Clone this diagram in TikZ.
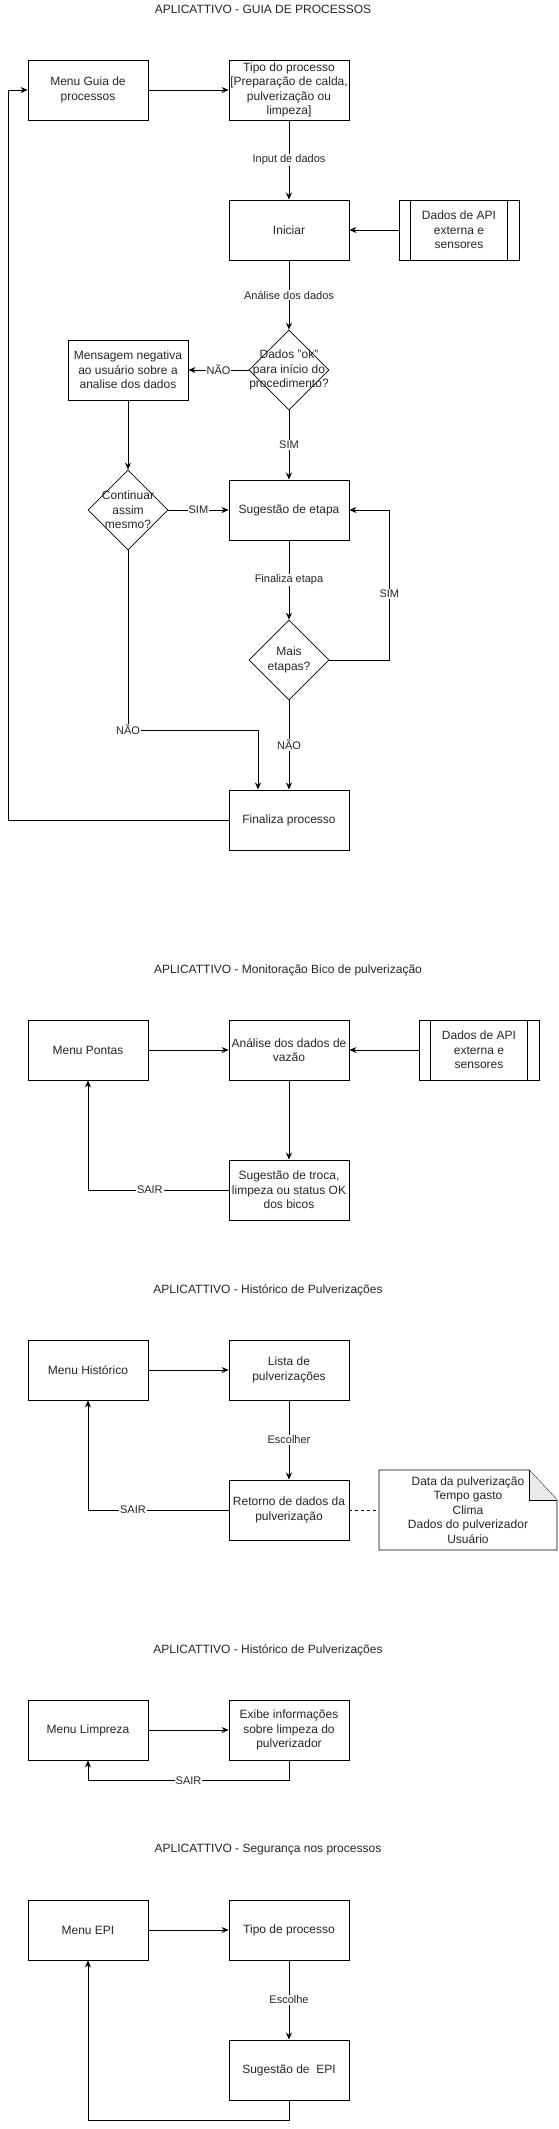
\documentclass[tikz,border=0pt]{standalone}
\usepackage{fontspec}
\setmainfont{Liberation Sans}
\usetikzlibrary{shapes.geometric,arrows.meta,positioning,calc}

\begin{document}
\begin{tikzpicture}[x=1pt,y=-1pt,
    every node/.style={text=black!85,font=\fontsize{12}{14.5}\selectfont},
    box/.style={draw,line width=0.9pt,minimum width=120pt,minimum height=60pt,inner sep=1pt,align=center},
    decision/.style={draw,diamond,line width=0.6pt,minimum width=80pt,minimum height=80pt,inner sep=0pt},
    flow/.style={line width=0.9pt,-{Stealth[length=7pt,width=6pt]}},
    lbl/.style={fill=white,inner sep=1pt,font=\fontsize{11}{13}\selectfont}]
      \useasboundingbox (0,0) rectangle (558,2129);
      \fill[white] (0,0) rectangle (558,2129);

      % guia de processos
      \node (t1) at (263,9.5) {APLICATTIVO - GUIA DE PROCESSOS};
      \node[box] (menu) at (88,90) {Menu Guia de\\processos};
      \node[box] (tipo) at (289,90) {Tipo do processo\\{[}Preparação de calda,\\pulverização ou\\limpeza{]}};
      \node[box] (ini) at (289,230) {Iniciar};
      \node[box] (api) at (459,230) {Dados de API\\externa e\\sensores};
      \draw[line width=0.9pt] ([xshift=12pt]api.north west) -- ([xshift=12pt]api.south west);
      \draw[line width=0.9pt] ([xshift=-12pt]api.north east) -- ([xshift=-12pt]api.south east);
      \node[decision,label={[align=center]center:Dados "ok"\\para início do\\procedimento?}] (ok) at (289,370) {};
      \node[box] (msg) at (128,370) {Mensagem negativa\\ao usuário sobre a\\analise dos dados};
      \node[decision,label={[align=center]center:Continuar\\assim\\mesmo?}] (cont) at (128,510) {};
      \node[box] (etapa) at (289,510) {Sugestão de etapa};
      \node[decision,label={[align=center]center:Mais\\etapas?}] (mais) at (289,660) {};
      \node[box] (fim) at (289,820) {Finaliza processo};
      \coordinate (naoturn) at (258,730);

      \draw[flow] (menu) -- (tipo);
      \draw[flow] (tipo) -- node[lbl]{Input de dados} (ini);
      \draw[flow] (api) -- (ini);
      \draw[flow] (ini) -- node[lbl]{Análise dos dados} (ok);
      \draw[flow] (ok) -- node[lbl]{NÃO} (msg);
      \draw[flow] (ok) -- node[lbl]{SIM} (etapa);
      \draw[flow] (msg) -- (cont);
      \draw[flow] (cont) -- node[lbl]{SIM} (etapa);
      \draw[flow] (etapa) -- node[lbl]{Finaliza etapa} (mais);
      \draw[flow] (mais.east) -- ++(60,0) |- node[lbl,pos=0.22]{SIM} (etapa.east);
      \draw[flow] (mais) -- node[lbl]{NÃO} (fim);
      \draw[flow] (cont.south) |- node[lbl,pos=0.5]{NÃO} (naoturn) -- (naoturn |- fim.north);
      \draw[flow] (fim.west) -- ++(-220.5,0) |- (menu.west);

      % bico de pulverizacao
      \node (t2) at (288,970) {APLICATTIVO - Monitoração Bico de pulverização};
      \node[box] (pontas) at (88,1050) {Menu Pontas};
      \node[box] (vazao) at (289,1050) {Análise dos dados de\\vazão};
      \node[box] (api2) at (479,1050) {Dados de API\\externa e\\sensores};
      \draw[line width=0.9pt] ([xshift=12pt]api2.north west) -- ([xshift=12pt]api2.south west);
      \draw[line width=0.9pt] ([xshift=-12pt]api2.north east) -- ([xshift=-12pt]api2.south east);
      \node[box] (troca) at (289,1190) {Sugestão de troca,\\limpeza ou status OK\\dos bicos};
      \draw[flow] (pontas) -- (vazao);
      \draw[flow] (api2) -- (vazao);
      \draw[flow] (vazao) -- (troca);
      \draw[flow] (troca.west) -| node[lbl,pos=0.28]{SAIR} (pontas.south);

      % historico
      \node (t3) at (268,1290) {APLICATTIVO - Histórico de Pulverizações};
      \node[box] (hist) at (88,1370) {Menu Histórico};
      \node[box] (lista) at (289,1370) {Lista de\\pulverizações};
      \node[box] (ret) at (289,1510) {Retorno de dados da\\pulverização};
      \draw[line width=0.9pt] (379,1470) -- (529,1470) -- (557,1500) -- (557,1550) -- (379,1550) -- cycle;
      \filldraw[fill=black!8,line width=0.9pt] (529,1470) -- (529,1500) -- (557,1500);
      \node[align=center] (nota) at (468,1510) {Data da pulverização\\Tempo gasto\\Clima\\Dados do pulverizador\\Usuário};
      \draw[flow] (hist) -- (lista);
      \draw[flow] (lista) -- node[lbl]{Escolher} (ret);
      \draw[flow] (ret.west) -| node[lbl,pos=0.34]{SAIR} (hist.south);
      \draw[line width=0.6pt,dashed] (ret.east) -- (379,1510);

      % limpeza
      \node (t4) at (268,1650) {APLICATTIVO - Histórico de Pulverizações};
      \node[box] (limp) at (88,1730) {Menu Limpreza};
      \node[box] (exibe) at (289,1730) {Exibe informações\\sobre limpeza do\\pulverizador};
      \draw[flow] (limp) -- (exibe);
      \draw[flow] (exibe.south) -- ++(0,20) -| node[lbl,pos=0.25]{SAIR} (limp.south);

      % EPI
      \node (t5) at (268,1850) {APLICATTIVO - Segurança nos processos};
      \node[box] (epi) at (88,1930) {Menu EPI};
      \node[box] (tipo2) at (289,1930) {Tipo de processo};
      \node[box] (sugepi) at (289,2070) {Sugestão de~~EPI};
      \draw[flow] (epi) -- (tipo2);
      \draw[flow] (tipo2) -- node[lbl]{Escolhe} (sugepi);
      \draw[flow] (sugepi.south) -- ++(0,20) -| (epi.south);
    \end{tikzpicture}
\end{document}
